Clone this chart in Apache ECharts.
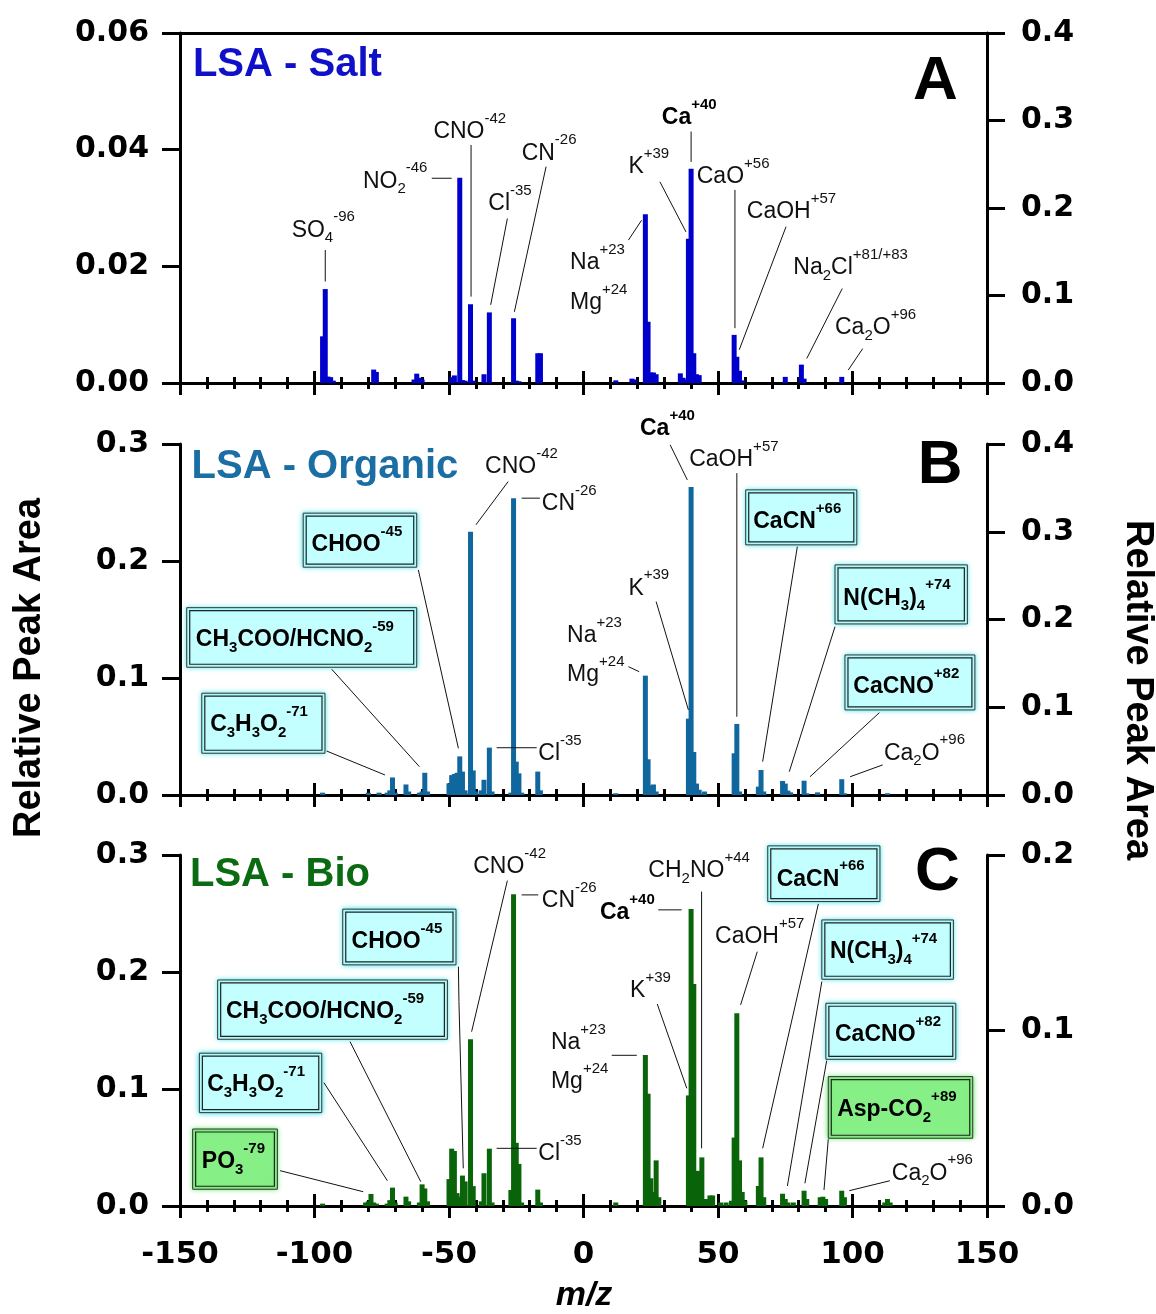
<!DOCTYPE html>
<html><head><meta charset="utf-8">
<script src="https://cdn.jsdelivr.net/npm/echarts@6/dist/echarts.min.js"></script>
<style>html,body{margin:0;padding:0;background:#fff}#c{width:1156px;height:1314px}</style>
</head><body><div id="c"></div>
<script>
// ---------- DATA (m/z, relative peak area) ----------
// negative ions on left axis, positive ions on right axis
const saltNeg = [[-97,0.0080],[-96,0.0161],[-95,0.0011],[-94,0.0010],[-93,0.0004],[-78,0.0023],[-77,0.0019],[-63,0.0006],[-62,0.0016],[-61,0.0009],[-60,0.0006],[-49,0.0010],[-48,0.0013],[-46,0.0352],[-45,0.0005],[-44,0.0004],[-42,0.0135],[-41,0.0004],[-37,0.0015],[-35,0.0121],[-26,0.0111],[-25,0.0004],[-24,0.0003],[-17,0.0051],[-16,0.0051]];
const saltPos = [[12,0.003],[18,0.005],[19,0.004],[23,0.193],[24,0.070],[25,0.012],[26,0.012],[27,0.010],[36,0.011],[37,0.006],[38,0.004],[39,0.165],[40,0.245],[41,0.034],[42,0.010],[43,0.009],[56,0.055],[57,0.030],[58,0.014],[59,0.003],[75,0.007],[81,0.021],[82,0.005],[96,0.007]];
const orgNeg = [[-97,0.002],[-80,0.002],[-76,0.002],[-73,0.002],[-72,0.004],[-71,0.015],[-70,0.002],[-66,0.009],[-65,0.003],[-61,0.002],[-60,0.003],[-59,0.019],[-58,0.003],[-50,0.010],[-49,0.017],[-48,0.018],[-47,0.019],[-46,0.033],[-45,0.020],[-44,0.004],[-42,0.225],[-41,0.021],[-40,0.003],[-38,0.004],[-37,0.013],[-35,0.0405],[-34,0.003],[-27,0.002],[-26,0.2536],[-25,0.0285],[-24,0.0185],[-23,0.002],[-17,0.020],[-16,0.004]];
const orgPos = [[12,0.002],[23,0.136],[24,0.0407],[25,0.011],[26,0.012],[27,0.004],[39,0.087],[40,0.351],[41,0.049],[42,0.013],[43,0.006],[45,0.004],[56,0.0475],[57,0.081],[58,0.004],[65,0.0095],[66,0.0285],[67,0.004],[74,0.016],[75,0.013],[76,0.005],[77,0.003],[82,0.0163],[83,0.002],[87,0.003],[96,0.018],[97,0.002],[113,0.002]];
const bioNeg = [[-97,0.002],[-81,0.003],[-80,0.004],[-79,0.0103],[-78,0.003],[-77,0.002],[-73,0.002],[-72,0.005],[-71,0.0157],[-70,0.003],[-66,0.008],[-65,0.004],[-61,0.003],[-60,0.0185],[-59,0.015],[-58,0.004],[-50,0.023],[-49,0.049],[-48,0.047],[-47,0.011],[-46,0.008],[-45,0.026],[-44,0.021],[-42,0.1425],[-41,0.017],[-38,0.004],[-37,0.028],[-35,0.049],[-34,0.003],[-27,0.0137],[-26,0.2664],[-25,0.054],[-24,0.036],[-23,0.003],[-17,0.014],[-16,0.003]];
const bioPos = [[12,0.002],[23,0.086],[24,0.064],[25,0.0158],[26,0.008],[27,0.026],[28,0.005],[39,0.063],[40,0.1692],[41,0.1265],[42,0.020],[43,0.020],[44,0.0277],[45,0.004],[46,0.004],[47,0.006],[48,0.006],[51,0.002],[53,0.002],[55,0.003],[56,0.039],[57,0.1098],[58,0.026],[59,0.008],[60,0.003],[65,0.0114],[66,0.0277],[67,0.005],[74,0.007],[75,0.004],[76,0.002],[78,0.002],[82,0.0087],[83,0.004],[88,0.005],[89,0.0053],[90,0.004],[96,0.0087],[97,0.005],[112,0.002],[113,0.004],[114,0.002]];
const panelTitles = ['LSA - Salt','LSA - Organic','LSA - Bio'];
const panelLetters = ['A','B','C'];
const leftMax = [0.06,0.3,0.3], leftInt = [0.02,0.1,0.1];
const rightMax = [0.4,0.4,0.2];
const xTicks = [-150,-100,-50,0,50,100,150];

// ---------- STYLE ----------
const FF = '"Liberation Sans", Arial, sans-serif';
const TF = '"DejaVu Sans", sans-serif';
const barColors = ['#0000CC','#10679E','#0A640A'];
const titleColors = ['#1010C8','#1A6EA4','#0B6B12'];
const grids = [{top:33,height:350},{top:444,height:351},{top:855,height:351}];

const chart = echarts.init(document.getElementById('c'), null, {renderer:'canvas'});
const xAxis = [], yAxis = [], series = [], grid = [];
const tickStyle = {color:'#000', width:3};
grids.forEach((g,i)=>{
  grid.push({left:180, width:807, top:g.top, height:g.height, containLabel:false});
});
function xa(i, inside, labels){
  return {type:'value', gridIndex:i, position:'bottom', min:-150, max:150, interval:50,
    axisLine:{show:true, onZero:false, lineStyle:{color:'#000', width:3}},
    axisTick:{show:true, inside:inside, length:12, lineStyle:tickStyle},
    minorTick:{show:true, splitNumber:5, length:6, lineStyle:tickStyle},
    splitLine:{show:false}, minorSplitLine:{show:false},
    axisLabel:{show:labels, margin:33, color:'#000', fontFamily:TF, fontWeight:'bold', fontSize:31,
      formatter:v=>String(v)}};
}
for (let i=0;i<3;i++) xAxis.push(xa(i,false,i===2));
for (let i=0;i<3;i++) xAxis.push(xa(i,true,false));
xAxis.push({type:'value', gridIndex:0, position:'top', min:-150, max:150,
  axisLine:{show:true, onZero:false, lineStyle:{color:'#000', width:3}},
  axisTick:{show:false}, axisLabel:{show:false}, splitLine:{show:false}});
for (let i=0;i<3;i++){
  const dec = i===0?2:1;
  yAxis.push({type:'value', gridIndex:i, position:'left', min:0, max:leftMax[i], interval:leftInt[i],
    axisLine:{show:true, onZero:false, lineStyle:{color:'#000', width:3}},
    axisTick:{show:true, inside:false, length:18, lineStyle:tickStyle},
    splitLine:{show:false},
    axisLabel:{margin:31, color:'#000', fontFamily:TF, fontWeight:'bold', fontSize:30, formatter:v=>v.toFixed(dec)}});
  yAxis.push({type:'value', gridIndex:i, position:'right', min:0, max:rightMax[i], interval:0.1,
    axisLine:{show:true, onZero:false, lineStyle:{color:'#000', width:3}},
    axisTick:{show:true, inside:false, length:18, lineStyle:tickStyle},
    splitLine:{show:false},
    axisLabel:{margin:34, color:'#000', fontFamily:TF, fontWeight:'bold', fontSize:30, formatter:v=>v.toFixed(1)}});
}
const negs=[saltNeg,orgNeg,bioNeg], poss=[saltPos,orgPos,bioPos];
for (let i=0;i<3;i++){
  series.push({type:'bar', xAxisIndex:i, yAxisIndex:2*i, data:negs[i], barWidth:5, barGap:'-100%',
    itemStyle:{color:barColors[i]}, silent:true});
  series.push({type:'bar', xAxisIndex:i, yAxisIndex:2*i+1, data:poss[i], barWidth:5, barGap:'-100%',
    itemStyle:{color:barColors[i]}, silent:true});
}
chart.setOption({animation:false, grid, xAxis, yAxis, series});

// ---------- ANNOTATIONS (positions in panel data units: m/z, left-axis value) ----------
const LABELS = [
 [0,'{m|SO}{b|4}{p|-96}',-108.5,0.0262],
 [0,'{m|NO}{b|2}{p|-46}',-82.0,0.0346],
 [0,'{m|CNO}{p|-42}',-55.8,0.0431],
 [0,'{m|Cl}{p|-35}',-35.4,0.0307],
 [0,'{m|CN}{p|-26}',-23.0,0.0394],
 [0,'{m|Na}{p|+23}',-5.0,0.0206],
 [0,'{m|Mg}{p|+24}',-5.0,0.0137],
 [0,'{m|K}{p|+39}',16.7,0.0371],
 [0,'{M|Ca}{P|+40}',29.1,0.0455],
 [0,'{m|CaO}{p|+56}',42.1,0.0354],
 [0,'{m|CaOH}{p|+57}',60.7,0.0294],
 [0,'{m|Na}{b|2}{m|Cl}{p|+81/+83}',78.0,0.0197],
 [0,'{m|Ca}{b|2}{m|O}{p|+96}',93.5,0.0095],
 [1,'{m|CNO}{p|-42}',-36.6,0.2807],
 [1,'{m|CN}{p|-26}',-15.5,0.2488],
 [1,'{m|Cl}{p|-35}',-16.8,0.0351],
 [1,'{m|Na}{p|+23}',-6.1,0.1359],
 [1,'{m|Mg}{p|+24}',-6.1,0.1026],
 [1,'{m|K}{p|+39}',16.7,0.1767],
 [1,'{M|Ca}{P|+40}',21.0,0.3129],
 [1,'{m|CaOH}{p|+57}',39.3,0.2864],
 [1,'{m|Ca}{b|2}{m|O}{p|+96}',111.7,0.0357],
 [1,'{M|CHOO}{P|-45}',-101.1,0.2138],
 [1,'{M|CH}{B|3}{M|COO/HCNO}{B|2}{P|-59}',-144.1,0.1325],
 [1,'{M|C}{B|3}{M|H}{B|3}{M|O}{B|2}{P|-71}',-138.8,0.0599],
 [1,'{M|CaCN}{P|+66}',63.1,0.2337],
 [1,'{M|N(CH}{B|3}{M|)}{B|4}{P|+74}',96.6,0.1682],
 [1,'{M|CaCNO}{P|+82}',100.3,0.0926],
 [2,'{m|CNO}{p|-42}',-41.0,0.2901],
 [2,'{m|CN}{p|-26}',-15.5,0.261],
 [2,'{m|Cl}{p|-35}',-16.8,0.0445],
 [2,'{m|Na}{p|+23}',-12.1,0.1394],
 [2,'{m|Mg}{p|+24}',-12.1,0.106],
 [2,'{m|K}{p|+39}',17.3,0.1841],
 [2,'{M|Ca}{P|+40}',6.1,0.2508],
 [2,'{m|CH}{b|2}{m|NO}{p|+44}',24.1,0.2867],
 [2,'{m|CaOH}{p|+57}',48.9,0.2303],
 [2,'{m|Ca}{b|2}{m|O}{p|+96}',114.6,0.028],
 [2,'{M|CHOO}{P|-45}',-86.2,0.226],
 [2,'{M|CH}{B|3}{M|COO/HCNO}{B|2}{P|-59}',-132.9,0.1661],
 [2,'{M|C}{B|3}{M|H}{B|3}{M|O}{B|2}{P|-71}',-139.9,0.1035],
 [2,'{M|PO}{B|3}{P|-79}',-141.9,0.0379],
 [2,'{M|CaCN}{P|+66}',71.8,0.2793],
 [2,'{M|N(CH}{B|3}{M|)}{B|4}{P|+74}',91.6,0.2174],
 [2,'{M|CaCNO}{P|+82}',93.5,0.1462],
 [2,'{M|Asp-CO}{B|2}{P|+89}',94.3,0.0821]
];
const LINES = [
 [0,-96,0.0228,-96,0.0174],[0,-56.4,0.0351,-49.0,0.0351],[0,-41.8,0.0408,-41.8,0.0148],
 [0,-28.3,0.0282,-34.5,0.0134],[0,-13.9,0.0371,-25.7,0.0122],[0,16.7,0.0245,21.6,0.0279],
 [0,28.4,0.0345,38.1,0.0259],[0,40.0,0.0431,40.0,0.0379],[0,56.3,0.0331,56.3,0.0094],
 [0,75.3,0.0268,57.9,0.0057],[0,96.2,0.0162,83.0,0.0042],[0,103.8,0.0059,98.4,0.0022],
 [1,-28.0,0.2679,-40.0,0.2309],[1,-23.0,0.2537,-16.2,0.2537],[1,-61.4,0.1924,-46.5,0.0399],
 [1,-93.6,0.1075,-61.0,0.0242],[1,-95.5,0.0376,-73.8,0.0171],[1,-32.3,0.0404,-17.4,0.0404],
 [1,16.7,0.1097,20.7,0.1054],[1,27.0,0.1653,39.0,0.0727],[1,32.2,0.2993,38.6,0.2693],
 [1,57.0,0.2751,57.0,0.0669],[1,79.5,0.2123,66.6,0.0285],[1,93.5,0.1439,76.5,0.0199],
 [1,110.0,0.0704,84.2,0.0156],[1,111.2,0.0257,99.1,0.0156],
 [2,-28.3,0.2781,-41.6,0.149],[2,-23.0,0.2659,-16.8,0.2659],[2,-46.5,0.2046,-46.3,0.1747,-44.7,0.0322],
 [2,-86.8,0.1405,-60.5,0.0208],[2,-96.5,0.1054,-72.9,0.0216],[2,-112.8,0.0302,-81.9,0.0122],
 [2,-32.3,0.0493,-17.4,0.0493],[2,10.5,0.1288,19.8,0.1288],[2,27.4,0.1727,38.4,0.1006],
 [2,27.8,0.2531,36.5,0.2531],[2,43.9,0.2687,43.9,0.0493],[2,64.6,0.2174,58.4,0.1719],
 [2,87.3,0.2582,66.6,0.0493],[2,88.6,0.1918,75.8,0.0171],[2,90.4,0.1242,82.3,0.0194],
 [2,91.0,0.057,89.4,0.0137],[2,113.9,0.0216,98.8,0.0131]
];
const BOXES = [
 [1,-104.2,0.2409,-62.0,0.1947,'c'],[1,-147.5,0.1601,-62.0,0.1092,'c'],[1,-141.9,0.0870,-96.1,0.0357,'c'],
 [1,60.3,0.2608,101.6,0.2138,'c'],[1,93.5,0.1967,142.7,0.1462,'c'],[1,97.2,0.1197,145.5,0.0727,'c'],
 [2,-89.5,0.2537,-47.4,0.2061,'c'],[2,-136.0,0.1932,-50.6,0.1425,'c'],[2,-142.8,0.1306,-97.3,0.0798,'c'],
 [2,-145.3,0.0658,-113.8,0.0143,'g'],[2,68.5,0.3078,110.2,0.2602,'c'],[2,88.6,0.2445,137.5,0.1938,'c'],
 [2,90.1,0.1733,138.4,0.1254,'c'],[2,91.0,0.1106,144.7,0.0579,'g']
];
const TITLEPOS = [[-145.2,0.0545],[-145.7,0.2804],[-146.3,0.283]];
const LETTERPOS = [[122.5,0.0516],[124.3,0.2813],[123.2,0.2847]];

function P(i,x,y){ return chart.convertToPixel({xAxisIndex:i, yAxisIndex:2*i},[x,y]); }
const f = (w,s)=> (w?'bold ':'')+s+'px '+FF;
const rich = {
  m:{font:f(false,23), fill:'#111'},
  b:{font:f(false,15), fill:'#111', padding:[16,0,0,0]},
  p:{font:f(false,15), fill:'#111', padding:[0,0,26,0]},
  M:{font:f(true,23), fill:'#000'},
  B:{font:f(true,15), fill:'#000', padding:[16,0,0,0]},
  P:{font:f(true,15), fill:'#000', padding:[0,0,26,0]}
};
const gfx = [];
BOXES.forEach(b=>{
  const a=P(b[0],b[1],b[2]), c=P(b[0],b[3],b[4]);
  const fill = b[5]==='g' ? '#86F086' : '#C4FFFF';
  const glow = b[5]==='g' ? 'rgba(60,220,60,0.8)' : 'rgba(0,220,230,0.8)';
  gfx.push({type:'rect', z:50, shape:{x:a[0],y:a[1],width:c[0]-a[0],height:c[1]-a[1]},
    style:{fill, stroke:'#333', lineWidth:1, shadowBlur:5, shadowColor:glow}});
  gfx.push({type:'rect', z:51, shape:{x:a[0]+3,y:a[1]+3,width:c[0]-a[0]-6,height:c[1]-a[1]-6},
    style:{fill:'none', stroke:'#222', lineWidth:1.2}});
});
LINES.forEach(l=>{
  const pts=[]; for(let k=1;k<l.length;k+=2) pts.push(P(l[0],l[k],l[k+1]));
  gfx.push({type:'polyline', z:52, shape:{points:pts}, style:{stroke:'#111', lineWidth:1, fill:'none'}});
});
LABELS.forEach(t=>{
  const p=P(t[0],t[2],t[3]);
  gfx.push({type:'text', z:60, x:p[0], y:p[1], style:{text:t[1], rich, font:f(false,23), fill:'#111',
    align:'left', verticalAlign:'middle', textAlign:'left', textVerticalAlign:'middle'}});
});
for (let i=0;i<3;i++){
  const p=P(i,TITLEPOS[i][0],TITLEPOS[i][1]);
  gfx.push({type:'text', z:60, x:p[0], y:p[1], style:{text:panelTitles[i], font:f(true,40), fill:titleColors[i],
    align:'left', verticalAlign:'middle', textAlign:'left', textVerticalAlign:'middle'}});
  const q=P(i,LETTERPOS[i][0],LETTERPOS[i][1]);
  gfx.push({type:'text', z:60, x:q[0], y:q[1], style:{text:panelLetters[i], font:f(true,62), fill:'#000',
    align:'left', verticalAlign:'middle', textAlign:'left', textVerticalAlign:'middle'}});
}
gfx.push({type:'text', z:60, x:30, y:668, rotation:Math.PI/2, style:{text:'Relative Peak Area', font:f(true,38), fill:'#000',
  align:'center', verticalAlign:'middle', textAlign:'center', textVerticalAlign:'middle'}});
gfx.push({type:'text', z:60, x:1137, y:690, rotation:-Math.PI/2, style:{text:'Relative Peak Area', font:f(true,38), fill:'#000',
  align:'center', verticalAlign:'middle', textAlign:'center', textVerticalAlign:'middle'}});
gfx.push({type:'text', z:60, x:584, y:1296, style:{text:'m/z', font:'italic bold 34px '+FF, fill:'#000',
  align:'center', verticalAlign:'middle', textAlign:'center', textVerticalAlign:'middle'}});
chart.setOption({graphic:gfx});
</script></body></html>
